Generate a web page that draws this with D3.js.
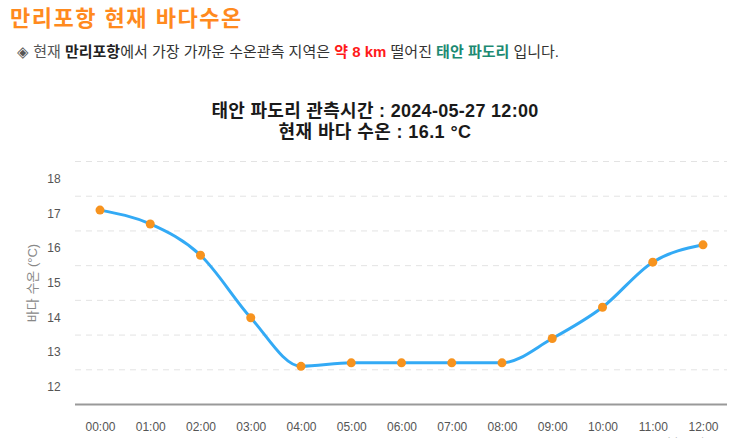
<!DOCTYPE html>
<html><head><meta charset="utf-8">
<script src="https://cdn.jsdelivr.net/npm/d3@7"></script>
<style>
html,body{margin:0;padding:0;background:#fff;overflow:hidden;}
svg{display:block;}
</style></head>
<body>
<svg id="c" width="750" height="438"></svg>
<script>
const categories = ["00:00","01:00","02:00","03:00","04:00","05:00","06:00","07:00","08:00","09:00","10:00","11:00","12:00"];
const temps = [17.1,16.7,15.8,14.0,12.6,12.7,12.7,12.7,12.7,13.4,14.3,15.6,16.1];
const yTickLabels = [12,13,14,15,16,17,18];
const gridValues = [12.5,13.5,14.5,15.5,16.5,17.5,18.5];

const svg = d3.select("#c");
const KR = "'Liberation Sans','Noto Sans CJK KR',sans-serif";
const NUM = "'Liberation Sans',Arial,sans-serif";

// Page header
svg.append("text").attr("x",10).attr("y",26)
  .attr("font-family",KR).attr("font-size",22).attr("font-weight",700)
  .attr("letter-spacing",1.5)
  .attr("fill","#ff8a1e").text("만리포항 현재 바다수온");

const sub = svg.append("text").attr("x",17).attr("y",57)
  .attr("font-family",KR).attr("font-size",15).attr("fill","#333");
sub.append("tspan").attr("fill","#555").text("◈ 현재 ");
sub.append("tspan").attr("font-weight",700).attr("fill","#222").text("만리포항");
sub.append("tspan").text("에서 가장 가까운 수온관측 지역은 ");
sub.append("tspan").attr("font-weight",700).attr("fill","#ff1a1a").text("약 8 km");
sub.append("tspan").text(" 떨어진 ");
sub.append("tspan").attr("font-weight",700).attr("fill","#1d8a72").text("태안 파도리");
sub.append("tspan").text(" 입니다.");

// Chart title
svg.append("text").attr("x",375).attr("y",117).attr("text-anchor","middle")
  .attr("font-family",KR).attr("font-size",18).attr("font-weight",700).attr("fill","#1a1a1a")
  .attr("letter-spacing",0.3)
  .text("태안 파도리 관측시간 : 2024-05-27 12:00");
svg.append("text").attr("x",375).attr("y",138).attr("text-anchor","middle")
  .attr("font-family",KR).attr("font-size",18).attr("font-weight",700).attr("fill","#1a1a1a")
  .attr("letter-spacing",0.4)
  .text("현재 바다 수온 : 16.1 °C");

// Scales
const x = d3.scalePoint().domain(categories).range([100,703]);
const y = d3.scaleLinear().domain([11.5,18.5]).range([404.5,161.5]);
const left = 75, right = 727;

// Grid
svg.append("g").selectAll("line").data(gridValues).join("line")
  .attr("x1",left).attr("x2",right)
  .attr("y1",d=>y(d)).attr("y2",d=>y(d))
  .attr("stroke","#e3e3e3").attr("stroke-width",1).attr("stroke-dasharray","6,5");

// Y labels
svg.append("g").selectAll("text").data(yTickLabels).join("text")
  .attr("x",54).attr("y",d=>y(d)+4).attr("text-anchor","middle")
  .attr("font-family",NUM).attr("font-size",12).attr("fill","#555")
  .text(d=>d);

// Y axis title
svg.append("text").attr("transform","translate(37,283) rotate(-90)")
  .attr("text-anchor","middle").attr("font-family",KR).attr("font-size",13).attr("fill","#888")
  .text("바다 수온 (°C)");

// X axis
const xAxis = d3.axisBottom(x).tickSize(0).tickPadding(18);
const gx = svg.append("g").attr("transform",`translate(0,${y(11.5)})`).call(xAxis);
gx.select(".domain").remove();
gx.selectAll("text").attr("font-family",NUM).attr("font-size",12).attr("fill","#555");
svg.append("line").attr("x1",left).attr("x2",right).attr("y1",y(11.5)).attr("y2",y(11.5))
  .attr("stroke","#999").attr("stroke-width",2);

// cut-off x axis title (partially outside the frame, as in the reference)
svg.append("text").attr("x",683).attr("y",447).attr("text-anchor","middle")
  .attr("font-family",KR).attr("font-size",11).attr("fill","#aaa").text("관측 시간");

// Line
const line = d3.line().x((d,i)=>x(categories[i])).y(d=>y(d)).curve(d3.curveMonotoneX);
svg.append("path").datum(temps).attr("d",line)
  .attr("fill","none").attr("stroke","#33aaf5").attr("stroke-width",3);

// Points
svg.append("g").selectAll("circle").data(temps).join("circle")
  .attr("cx",(d,i)=>x(categories[i])).attr("cy",d=>y(d)).attr("r",4.5)
  .attr("fill","#f7931e");
</script>
</body></html>
